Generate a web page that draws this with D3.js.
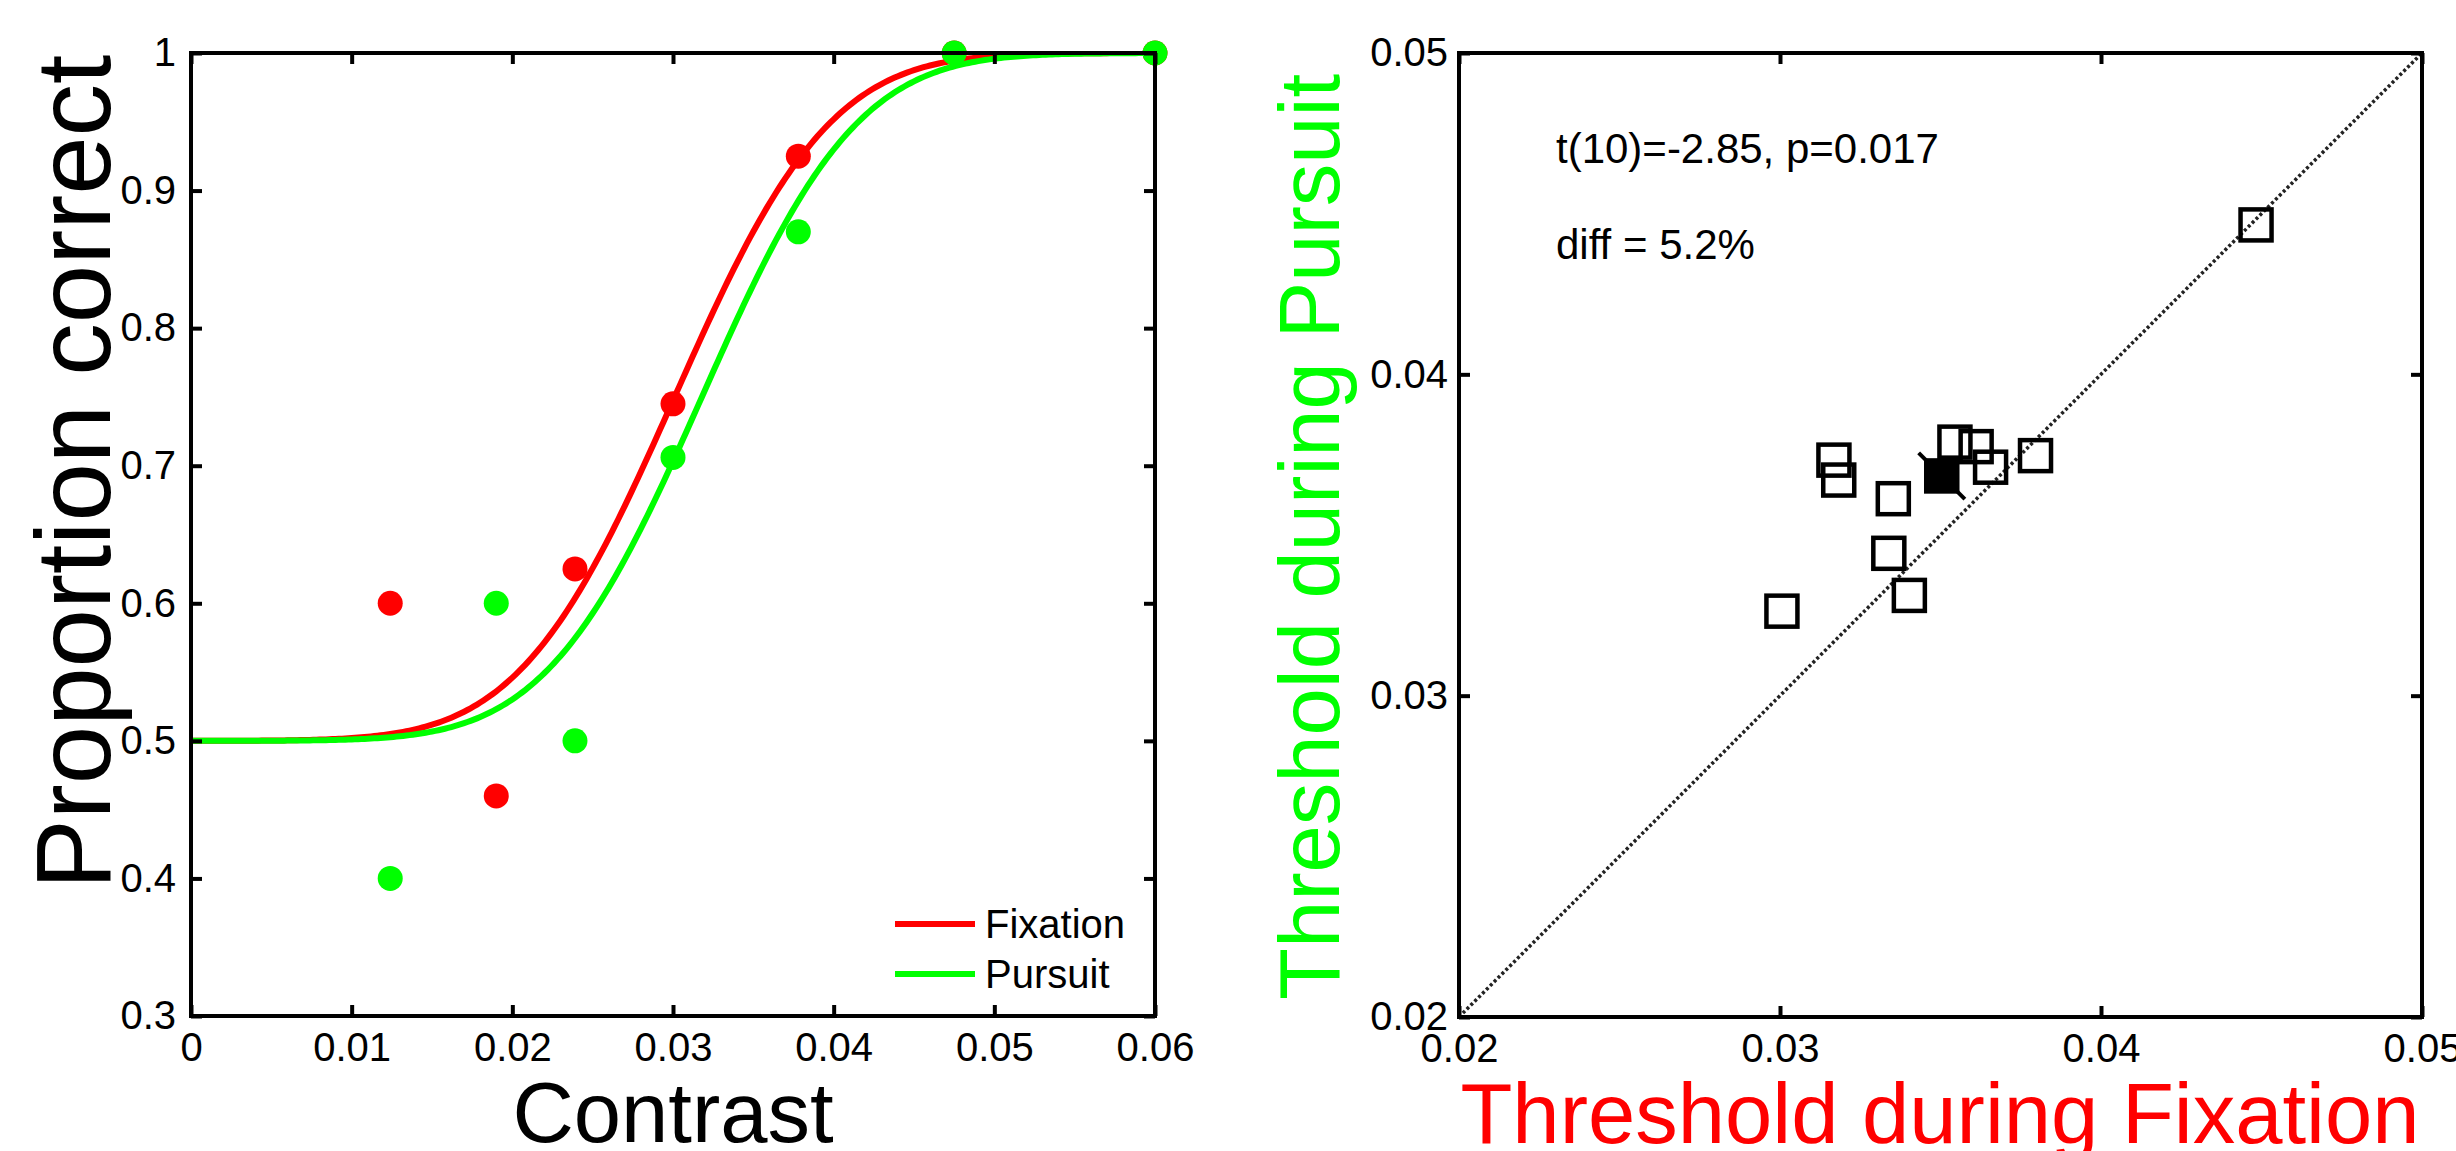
<!DOCTYPE html>
<html>
<head>
<meta charset="utf-8">
<script src="https://cdn.jsdelivr.net/npm/d3@7"></script>
<style>
  body { margin: 0; background: #fff; }
  svg { display: block; }
  text { font-family: "Liberation Sans", Arial, sans-serif; }
</style>
</head>
<body>
<svg id="chart" width="2456" height="1151"></svg>
<script>
// ---- Example observer: proportion correct per contrast level ----
const contrastLevels  = [0.0124, 0.019, 0.0239, 0.030, 0.0378, 0.0475, 0.06];
const fixationCorrect = [0.6, 0.46, 0.625, 0.745, 0.925, 1.0, 1.0];
const pursuitCorrect  = [0.4, 0.6, 0.5, 0.706, 0.87, 1.0, 1.0];

// cumulative-Gaussian fit parameters [fixation, pursuit]
const fitMu    = [0.0301, 0.0318];
const fitSigma = [0.0076, 0.0076];

const contrastTicks   = [0, 0.01, 0.02, 0.03, 0.04, 0.05, 0.06];
const contrastLabels  = ["0", "0.01", "0.02", "0.03", "0.04", "0.05", "0.06"];
const propTicks       = [0.3, 0.4, 0.5, 0.6, 0.7, 0.8, 0.9, 1.0];
const propLabels      = ["0.3", "0.4", "0.5", "0.6", "0.7", "0.8", "0.9", "1"];

// ---- Group data: per-subject thresholds ----
const fixationThreshold = [0.04483, 0.03168, 0.03183, 0.03353, 0.03339, 0.03403, 0.03006, 0.03545, 0.03611, 0.03656, 0.03796];
const pursuitThreshold  = [0.04465, 0.03733, 0.03671, 0.03613, 0.03443, 0.03312, 0.03263, 0.03789, 0.03775, 0.03711, 0.03747];
const diffSem = 0.00072;   // half-length of the error bar across the unity line

const thresholdTicks  = [0.02, 0.03, 0.04, 0.05];
const thresholdLabels = ["0.02", "0.03", "0.04", "0.05"];

const statsText = ["t(10)=-2.85, p=0.017", "diff = 5.2%"];
const seriesNames = ["Fixation", "Pursuit"];
const RED = "#ff0000", GREEN = "#00ff00";

const svg = d3.select("#chart");

// ---------- helpers ----------
function erf(x) {
  const s = Math.sign(x); x = Math.abs(x);
  const t = 1 / (1 + 0.3275911 * x);
  const y = 1 - (((((1.061405429 * t - 1.453152027) * t) + 1.421413741) * t - 0.284496736) * t + 0.254829592) * t * Math.exp(-x * x);
  return s * y;
}
const psychometric = (c, mu, sigma) => 0.5 + 0.5 * (0.5 * (1 + erf((c - mu) / (sigma * Math.SQRT2))));

function drawFrame(g, x, y, xTicks, xLabels, yTicks, yLabels, yPad) {
  const [x0, x1] = x.range(), [y0, y1] = y.range();
  const style = sel => {
    sel.select(".domain").remove();
    sel.selectAll(".tick line").attr("stroke", "#000").attr("stroke-width", 4);
    sel.selectAll(".tick text").attr("fill", "#000").attr("font-size", 40)
       .attr("font-family", '"Liberation Sans", Arial, sans-serif');
  };
  g.append("g").attr("transform", `translate(0,${y0})`)
    .call(d3.axisBottom(x).tickValues(xTicks).tickSize(-11).tickPadding(17)
      .tickFormat((d, i) => xLabels[i])).call(style);
  g.append("g").attr("transform", `translate(0,${y1})`)
    .call(d3.axisTop(x).tickValues(xTicks).tickSize(-11).tickFormat("")).call(style);
  g.append("g").attr("transform", `translate(${x0},0)`)
    .call(d3.axisLeft(y).tickValues(yTicks).tickSize(-11).tickPadding(yPad)
      .tickFormat((d, i) => yLabels[i])).call(style);
  g.append("g").attr("transform", `translate(${x1},0)`)
    .call(d3.axisRight(y).tickValues(yTicks).tickSize(-11).tickFormat("")).call(style);
  g.append("rect").attr("x", x0).attr("y", y1).attr("width", x1 - x0).attr("height", y0 - y1)
    .attr("fill", "none").attr("stroke", "#000").attr("stroke-width", 4);
}

// ================= Left panel: psychometric functions =================
const xL = d3.scaleLinear().domain([0, 0.06]).range([191, 1155]);
const yL = d3.scaleLinear().domain([0.3, 1]).range([1016, 53]);
const left = svg.append("g");

left.append("clipPath").attr("id", "clipL").append("rect")
  .attr("x", 191).attr("y", 53).attr("width", 964).attr("height", 963);

const curveX = d3.range(0, 0.06 + 1e-9, 0.0002);
const line = d3.line().x(d => xL(d[0])).y(d => yL(d[1]));
const series = [
  { color: RED,   values: fixationCorrect, mu: fitMu[0], sigma: fitSigma[0] },
  { color: GREEN, values: pursuitCorrect,  mu: fitMu[1], sigma: fitSigma[1] }
];

series.forEach(s => {
  left.append("path")
    .attr("clip-path", "url(#clipL)")
    .attr("d", line(curveX.map(c => [c, psychometric(c, s.mu, s.sigma)])))
    .attr("fill", "none").attr("stroke", s.color).attr("stroke-width", 6);
  left.selectAll(null).data(s.values).join("circle")
    .attr("cx", (d, i) => xL(contrastLevels[i]))
    .attr("cy", d => yL(d))
    .attr("r", 12.5)
    .attr("fill", s.color);
});

drawFrame(left, xL, yL, contrastTicks, contrastLabels, propTicks, propLabels, 15);

// legend
const legend = left.append("g");
series.forEach((s, i) => {
  const cy = 924 + i * 50;
  legend.append("line").attr("x1", 895).attr("x2", 975).attr("y1", cy).attr("y2", cy)
    .attr("stroke", s.color).attr("stroke-width", 6);
  legend.append("text").attr("x", 985).attr("y", cy).attr("dy", "0.35em")
    .attr("font-size", 40).attr("fill", "#000").text(seriesNames[i]);
});

left.append("text").attr("x", 673).attr("y", 1142).attr("text-anchor", "middle")
  .attr("font-size", 85).attr("fill", "#000").text("Contrast");
left.append("text").attr("transform", "translate(110,472) rotate(-90)").attr("text-anchor", "middle")
  .attr("font-size", 105).attr("fill", "#000").text("Proportion correct");

// ================= Right panel: threshold scatter =================
const xR = d3.scaleLinear().domain([0.02, 0.05]).range([1459, 2422]);
const yR = d3.scaleLinear().domain([0.02, 0.05]).range([1017, 53]);
const right = svg.append("g");

// unity line
right.append("line")
  .attr("x1", xR(0.02)).attr("y1", yR(0.02)).attr("x2", xR(0.05)).attr("y2", yR(0.05))
  .attr("stroke", "#222").attr("stroke-width", 3.5).attr("stroke-dasharray", "3,2.5");

const side = 31;
right.selectAll("rect.subject").data(fixationThreshold).join("rect")
  .attr("class", "subject")
  .attr("x", (d) => xR(d) - side / 2)
  .attr("y", (d, i) => yR(pursuitThreshold[i]) - side / 2)
  .attr("width", side).attr("height", side)
  .attr("fill", "none").attr("stroke", "#000").attr("stroke-width", 4.5);

// group mean with error bar across the unity line
const meanFix = d3.mean(fixationThreshold);
const meanPur = d3.mean(pursuitThreshold);
right.append("line")
  .attr("x1", xR(meanFix - diffSem)).attr("y1", yR(meanPur + diffSem))
  .attr("x2", xR(meanFix + diffSem)).attr("y2", yR(meanPur - diffSem))
  .attr("stroke", "#000").attr("stroke-width", 4);
right.append("rect")
  .attr("x", xR(meanFix) - side / 2).attr("y", yR(meanPur) - side / 2)
  .attr("width", side).attr("height", side)
  .attr("fill", "#000").attr("stroke", "#000").attr("stroke-width", 4.5);

drawFrame(right, xR, yR, thresholdTicks, thresholdLabels, thresholdTicks, thresholdLabels, 11);

statsText.forEach((t, i) => {
  right.append("text").attr("x", 1556).attr("y", 163 + i * 96)
    .attr("font-size", 42).attr("fill", "#000").text(t);
});

right.append("text").attr("x", 1940).attr("y", 1143).attr("text-anchor", "middle")
  .attr("font-size", 85).attr("fill", RED).text("Threshold during Fixation");
right.append("text").attr("transform", "translate(1339,537) rotate(-90)").attr("text-anchor", "middle")
  .attr("font-size", 85).attr("fill", GREEN).text("Threshold during Pursuit");
</script>
</body>
</html>
